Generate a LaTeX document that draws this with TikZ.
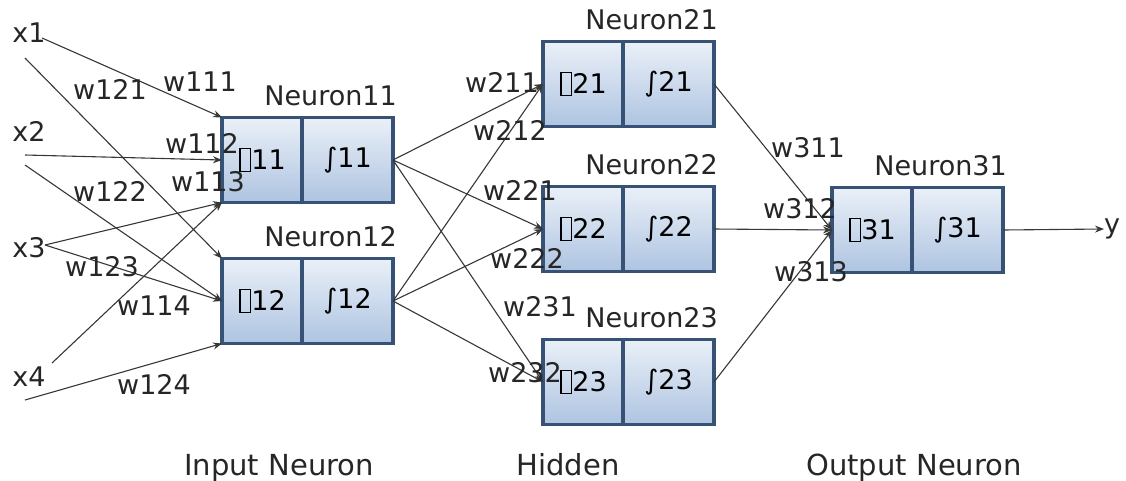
\documentclass[tikz,border=0pt]{standalone}
\usepackage{fontspec}
\setmainfont{DejaVu Sans}
\usetikzlibrary{positioning,calc,arrows.meta}
\definecolor{boxline}{RGB}{55,82,116}
\definecolor{boxtop}{RGB}{234,240,248}
\definecolor{boxbot}{RGB}{174,196,225}
\definecolor{wirecol}{RGB}{55,55,55}
\newcommand\nosym{\kern1pt{\setlength\fboxsep{0pt}\setlength\fboxrule{1.3pt}\raisebox{-2pt}{\fbox{\rule{0pt}{22pt}\rule{9pt}{0pt}}}}\kern0.5pt}
\tikzset{
	part/.style={rectangle, draw=boxline, line width=3.2pt, top color=boxtop, bottom color=boxbot,
		minimum height=85pt, inner sep=0pt, outer sep=0pt, font=\fontsize{27}{31}\selectfont},
	sumpart/.style={part, minimum width=80pt},
	actpart/.style={part, minimum width=91pt},
	wire/.style={draw=wirecol, line width=1.1pt, -{Stealth[length=9pt,width=7pt]}},
	wlabel/.style={inner sep=0pt, text=black!85, font=\fontsize{27}{31}\selectfont},
	layer/.style={inner sep=0pt, anchor=base, text=black!85, font=\fontsize{29}{33}\selectfont},
}

\begin{document}
\begin{tikzpicture}[x=1pt,y=-1pt]
		\useasboundingbox (0,0) rectangle (1126,480);
		% neurons
		\foreach \n/\x/\y in {11/222/160,12/222/301,21/543/84,22/543/229,23/543/382,31/832/230}{
			\node[sumpart,anchor=west] (s\n) at (\x,\y) {\nosym\n};
			\node[actpart,right=0pt of s\n] (a\n) {∫\n};
			\node[wlabel,anchor=base east] (l\n) at ($(a\n.north east)+(4,-12)$) {Neuron\n};
		}
		% inputs
		\foreach \i/\y in {1/33,2/131,3/248,4/377}
		\node[wlabel] (x\i) at (29,\y) {x\i};
		\node[wlabel,anchor=west] (y) at (1104,229) {y};
		\coordinate (i1a) at (42,38);
		\coordinate (i1b) at (25,58);
		\coordinate (i2a) at (25,155);
		\coordinate (i2b) at (25,165);
		\coordinate (i3) at (45,245);
		\coordinate (i4a) at (52,363);
		\coordinate (i4b) at (25,400);
		\draw[wire] (i1a) -- (s11.north west);
		\draw[wire] (i1b) -- (s12.north west);
		\draw[wire] (i2a) -- (s11.west);
		\draw[wire] (i2b) -- (s12.west);
		\draw[wire] (i3) -- (s11.south west);
		\draw[wire] (i3) -- (s12.west);
		\draw[wire] (i4a) -- (s11.south west);
		\draw[wire] (i4b) -- (s12.south west);
		\foreach \i in {11,12}
		\foreach \j in {21,22,23}
		\draw[wire] (a\i.east) -- (s\j.west);
		\foreach \j in {21,22,23}
		\draw[wire] (a\j.east) -- (s31.west);
		\draw[wire] (a31.east) -- (y.west);
		% weights
		\foreach \t/\x/\y in {111/200/82,121/110/89,112/202/143,113/208/182,122/110/191,123/102/267,114/154/306,124/154/384,
			211/502/82,212/510/130,221/520/190,222/527/258,231/540/307,232/525/373,311/808/148,312/800/209,313/811/272}
		\node[wlabel] (w\t) at (\x,\y) {w\t};
		% layers
		\node[layer] (input) at (279,475) {Input Neuron};
		\node[layer] (hidden) at (568,475) {Hidden};
		\node[layer] (output) at (914,475) {Output Neuron};
	\end{tikzpicture}
\end{document}
